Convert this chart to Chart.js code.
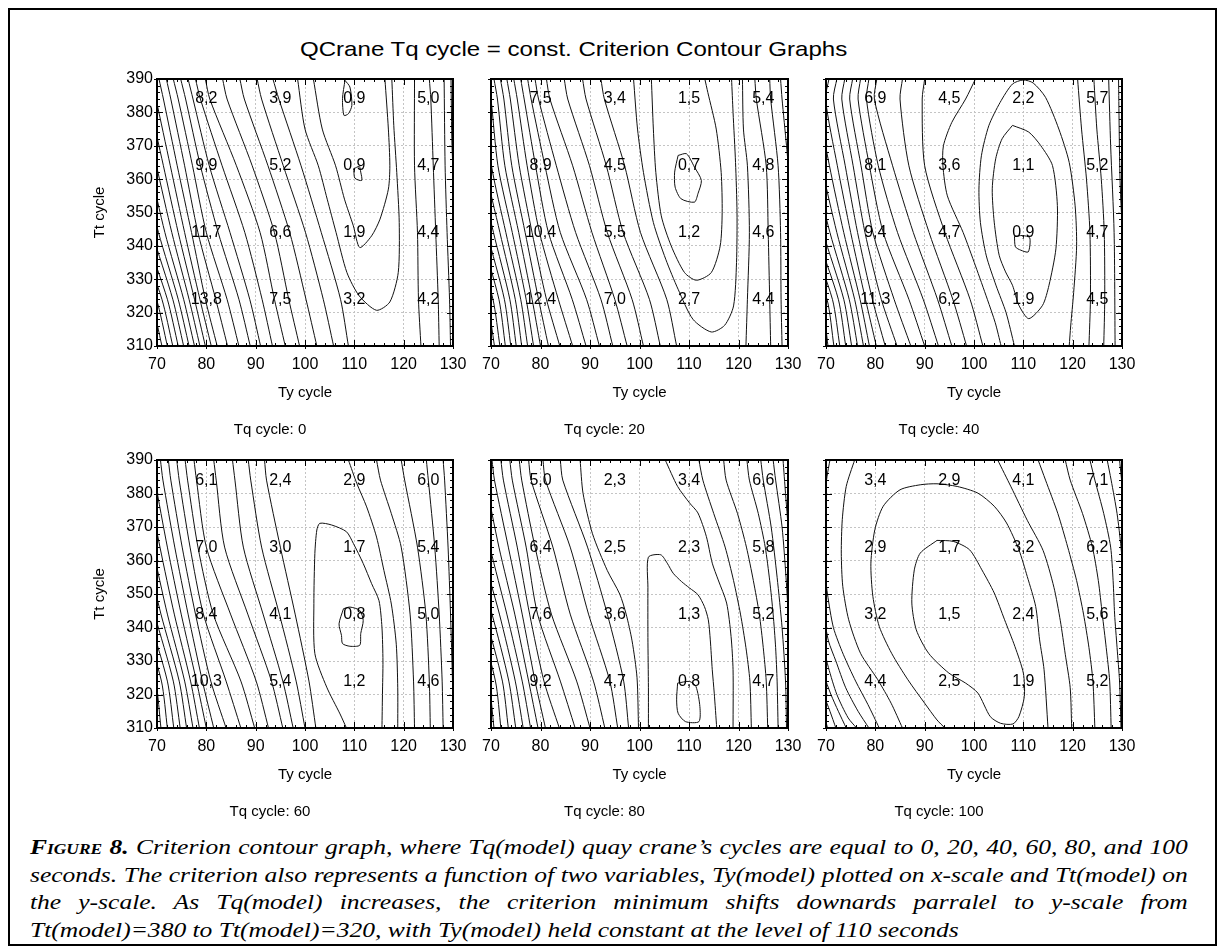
<!DOCTYPE html>
<html>
<head>
<meta charset="utf-8">
<title>QCrane Tq cycle contour graphs</title>
<script src="https://cdn.jsdelivr.net/npm/chart.js@4.4.1/dist/chart.umd.min.js"></script>
<style>
  body { margin: 0; background: #fff; }
  #page { position: relative; width: 1223px; height: 948px; overflow: hidden; font-family: Arial, "Liberation Sans", sans-serif; }
  #frame { position: absolute; left: 8px; top: 8px; width: 1205px; height: 934px; border: 2px solid #000; }
  #title { position: absolute; left: 300px; top: 37px; font-size: 21px; line-height: 24px; white-space: nowrap; color: #000; transform: scaleX(1.146); transform-origin: 0 0; }
  canvas { position: absolute; }
  #caption { position: absolute; left: 30px; top: 833px; width: 998px; font-family: "Liberation Serif", "Times New Roman", serif; font-style: italic; font-size: 22px; line-height: 27.7px; color: #000; transform: scaleX(1.16); transform-origin: 0 0; }
  #caption div { white-space: nowrap; }
  #caption .jl { text-align: justify; text-align-last: justify; }
  .sc { font-variant: small-caps; }
</style>
</head>
<body>
<div id="page">
  <div id="frame"></div>
  <div id="title">QCrane Tq cycle = const. Criterion Contour Graphs</div>
  <canvas id="c0"></canvas>
  <canvas id="c1"></canvas>
  <canvas id="c2"></canvas>
  <canvas id="c3"></canvas>
  <canvas id="c4"></canvas>
  <canvas id="c5"></canvas>
  <div id="caption">
    <div class="jl"><b>F<span class="sc">igure</span> 8.</b> Criterion contour graph, where Tq(model) quay crane’s cycles are equal to 0, 20, 40, 60, 80, and 100</div>
    <div class="jl">seconds. The criterion also represents a function of two variables, Ty(model) plotted on x-scale and Tt(model) on</div>
    <div class="jl">the y-scale. As Tq(model) increases, the criterion minimum shifts downards parralel to y-scale from</div>
    <div>Tt(model)=380 to Tt(model)=320, with Ty(model) held constant at the level of 110 seconds</div>
  </div>
</div>

<script>
// panels, one per Tq cycle
var tqCycles = [0, 20, 40, 60, 80, 100];

// where the value labels sit (Ty, Tt)
var tyLabelCols = [80, 95, 110, 125];
var ttLabelRows = [384, 364, 344, 324];

// criterion values written on each panel, row by row from the top
var tq0Values = [8.2, 3.9, 0.9, 5.0, 9.9, 5.2, 0.9, 4.7, 11.7, 6.6, 1.9, 4.4, 13.8, 7.5, 3.2, 4.2];
var tq20Values = [7.5, 3.4, 1.5, 5.4, 8.9, 4.5, 0.7, 4.8, 10.4, 5.5, 1.2, 4.6, 12.4, 7.0, 2.7, 4.4];
var tq40Values = [6.9, 4.5, 2.2, 5.7, 8.1, 3.6, 1.1, 5.2, 9.4, 4.7, 0.9, 4.7, 11.3, 6.2, 1.9, 4.5];
var tq60Values = [6.1, 2.4, 2.9, 6.0, 7.0, 3.0, 1.7, 5.4, 8.4, 4.1, 0.8, 5.0, 10.3, 5.4, 1.2, 4.6];
var tq80Values = [5.0, 2.3, 3.4, 6.6, 6.4, 2.5, 2.3, 5.8, 7.6, 3.6, 1.3, 5.2, 9.2, 4.7, 0.8, 4.7];
var tq100Values = [3.4, 2.9, 4.1, 7.1, 2.9, 1.7, 3.2, 6.2, 3.2, 1.5, 2.4, 5.6, 4.4, 2.5, 1.9, 5.2];

// the dense slanted contours on the left: Ty where each one crosses these Tt rows
var ttRows = [390, 384, 364, 344, 324, 310];

var tq0Bands = [
  [93.5, 94.7, 99.2, 103.3, 107.2, 108.8],
  [90.3, 91.2, 95.6, 100.1, 103.7, 105.8],
  [86.8, 87.7, 92.5, 96.9, 100.2, 102.4],
  [83.3, 84.2, 89.3, 93.8, 96.7, 98.9],
  [79.8, 80.7, 86.1, 90.9, 93.8, 96.0],
  [77.8, 78.8, 83.2, 87.8, 91.3, 93.4],
  [76.3, 77.3, 80.6, 84.8, 88.8, 91.0],
  [74.8, 75.8, 78.8, 82.4, 86.6, 88.9],
  [73.3, 74.3, 77.2, 80.0, 84.2, 86.6],
  [71.9, 72.8, 75.6, 78.3, 81.9, 84.3],
  [70.4, 71.3, 74.1, 77.0, 79.8, 82.2],
  [68.9, 69.8, 72.7, 75.6, 78.7, 81.0],
  [67.4, 68.3, 71.3, 74.3, 77.6, 79.8],
  [66.0, 67.0, 69.9, 73.0, 76.5, 78.7],
  [64.5, 65.5, 68.5, 71.6, 75.4, 77.6],
  [63.0, 64.0, 67.0, 70.3, 74.3, 76.5],
  [61.5, 62.5, 65.6, 69.0, 73.2, 75.4],
  [60.0, 61.0, 64.2, 67.6, 72.1, 74.3],
  [58.5, 59.5, 62.8, 66.3, 71.0, 73.2],
  [57.0, 58.0, 61.4, 65.0, 69.9, 72.1],
  [55.5, 56.5, 60.0, 63.7, 68.8, 71.0]
];
var tq20Bands = [
  [92.2, 92.9, 97.0, 100.2, 105.5, 107.5],
  [88.5, 89.2, 93.3, 96.7, 102.0, 104.2],
  [84.8, 85.5, 89.9, 93.5, 98.5, 100.8],
  [81.2, 81.9, 86.5, 90.4, 95.0, 97.5],
  [78.9, 79.6, 83.2, 87.1, 92.2, 94.6],
  [77.4, 78.1, 80.9, 84.0, 89.3, 91.9],
  [76.0, 76.7, 79.0, 81.6, 86.4, 89.2],
  [74.6, 75.3, 77.3, 79.8, 83.6, 86.5],
  [73.2, 73.9, 75.7, 78.3, 81.2, 83.9],
  [71.9, 72.6, 74.2, 76.9, 79.6, 81.6],
  [70.6, 71.3, 72.8, 75.6, 78.3, 80.0],
  [69.3, 70.0, 71.4, 74.3, 77.1, 78.6],
  [68.0, 68.7, 70.1, 73.0, 76.0, 77.4],
  [66.7, 67.4, 68.8, 71.8, 74.9, 76.2],
  [65.4, 66.1, 67.5, 70.5, 73.8, 75.1],
  [64.0, 64.8, 66.2, 69.2, 72.7, 74.0],
  [62.7, 63.5, 64.9, 67.9, 71.6, 72.9],
  [61.4, 62.2, 63.6, 66.6, 70.4, 71.8],
  [60.0, 61.0, 62.3, 65.3, 69.2, 70.7]
];
var tq40Bands = [
  [90.0, 89.5, 90.0, 94.1, 99.2, 101.8],
  [85.5, 85.0, 86.8, 90.9, 95.7, 98.5],
  [80.3, 79.8, 83.5, 87.7, 92.6, 95.5],
  [78.7, 78.2, 80.6, 84.5, 89.7, 92.8],
  [77.0, 76.5, 78.8, 81.6, 86.8, 90.0],
  [75.4, 74.8, 77.1, 79.5, 83.8, 87.2],
  [73.8, 73.2, 75.5, 77.9, 81.2, 84.4],
  [72.2, 71.5, 73.9, 76.4, 79.4, 82.0],
  [70.6, 69.9, 72.3, 75.0, 78.0, 80.2],
  [69.0, 68.3, 70.7, 73.6, 76.9, 78.8],
  [67.4, 66.7, 69.1, 72.2, 75.8, 77.6],
  [65.8, 65.1, 67.5, 70.8, 74.7, 76.4],
  [64.2, 63.5, 65.9, 69.4, 73.6, 75.2],
  [62.6, 61.9, 64.3, 68.0, 72.5, 74.0],
  [61.0, 60.3, 62.7, 66.6, 71.3, 72.8],
  [59.4, 58.7, 61.1, 65.2, 70.2, 71.6],
  [57.8, 57.1, 59.5, 63.8, 69.1, 70.4]
];
var tq60Bands = [
  [91.8, 92.2, 95.0, 98.0, 100.8, 102.2],
  [88.5, 89.0, 91.2, 94.8, 98.2, 100.0],
  [85.3, 85.8, 87.5, 91.5, 95.5, 97.6],
  [81.5, 82.0, 83.7, 88.4, 93.2, 95.5],
  [77.5, 78.0, 80.0, 84.9, 90.1, 92.6],
  [75.7, 76.2, 78.3, 81.4, 87.0, 89.8],
  [74.0, 74.5, 76.7, 79.4, 84.0, 87.0],
  [72.3, 72.8, 75.1, 77.8, 80.9, 84.0],
  [70.7, 71.2, 73.6, 76.3, 79.2, 81.5],
  [69.1, 69.6, 72.1, 74.9, 78.0, 80.0],
  [67.5, 68.0, 70.6, 73.5, 76.8, 78.6],
  [65.9, 66.4, 69.1, 72.1, 75.6, 77.3],
  [64.3, 64.8, 67.6, 70.8, 74.5, 76.0],
  [62.7, 63.2, 66.1, 69.5, 73.3, 74.7],
  [61.1, 61.6, 64.6, 68.2, 72.1, 73.4],
  [59.5, 60.0, 63.1, 66.9, 70.9, 72.1],
  [57.9, 58.4, 61.6, 65.6, 69.7, 70.8]
];
var tq80Bands = [
  [84.0, 84.5, 89.5, 93.5, 96.8, 97.8],
  [80.5, 81.0, 86.0, 89.7, 94.0, 95.6],
  [77.6, 78.1, 82.5, 86.0, 90.7, 93.0],
  [75.7, 76.2, 78.9, 82.2, 87.3, 90.0],
  [73.8, 74.3, 77.1, 79.4, 84.0, 87.0],
  [72.0, 72.5, 75.3, 77.8, 80.7, 83.8],
  [70.2, 70.7, 73.5, 76.3, 78.9, 81.0],
  [68.4, 68.9, 71.6, 74.8, 77.6, 79.5],
  [66.6, 67.1, 69.8, 73.2, 76.3, 78.0],
  [64.8, 65.3, 68.0, 71.7, 74.9, 76.5],
  [63.0, 63.5, 66.2, 70.2, 73.6, 75.0],
  [61.0, 61.5, 64.4, 68.7, 72.3, 73.5],
  [59.0, 59.5, 62.6, 67.2, 70.9, 72.0],
  [57.0, 57.5, 60.8, 65.7, 69.5, 70.6]
];
var tq100Bands = [];

// the other contours, as (Ty, Tt) points
var tq0Curves = [
  [[108.1, 389.6], [109.1, 387.6], [109.5, 382.1], [108.8, 379.6], [107.9, 379.1], [107.6, 384.1], [108.1, 389.6]],
  [[109.9, 363.1], [111.0, 363.8], [111.3, 362.1], [111.5, 359.6], [110.1, 360.3], [109.9, 363.1]],
  [[101.7, 390], [103.5, 375], [106.2, 364], [108, 354], [109.8, 346], [111.1, 339.5], [113.5, 343], [115.2, 348], [116.9, 357], [117.2, 364], [116.9, 375], [116.2, 390]],
  [[98.5, 390], [100, 375], [102.7, 364], [104.5, 354], [106.3, 344], [108.5, 332], [111, 325], [114.5, 320.7], [117.2, 323.2], [118.9, 332], [119.1, 347], [118.6, 362], [118, 376], [117.6, 390]],
  [[122.2, 390], [122.2, 364], [122.8, 344], [123, 324], [123.5, 310]],
  [[125.2, 390], [125.5, 384], [126, 364], [126.5, 344], [127, 324], [127.2, 310]],
  [[128.2, 390], [128.4, 364], [128.8, 344], [129.3, 324], [129.5, 310]],
  [[129.6, 390], [129.8, 370], [130.4, 350]]
];
var tq20Curves = [
  [[107.8, 367.1], [109.5, 367.6], [111.1, 363.6], [112.5, 359.6], [111.8, 355.6], [111.1, 353.1], [108.4, 354.1], [107.2, 357.6], [107.1, 362.1], [107.8, 367.1]],
  [[102.4, 390], [102.8, 375], [103.3, 362], [104.4, 349], [106.4, 340], [109.1, 332], [111.5, 329.7], [114.5, 332], [116.3, 340], [116.7, 350], [116.5, 362], [115.5, 375], [113.8, 386], [113.2, 390]],
  [[98.8, 390], [99.6, 375], [100.8, 362], [102.8, 347], [105.3, 336], [107.8, 327], [110.8, 318], [114.5, 314.2], [117.2, 316.2], [119, 322], [119.6, 335], [119.7, 350], [119.4, 365], [118.9, 380], [118.6, 390]],
  [[120.8, 390], [121, 375], [121.8, 364], [122.2, 344], [121.8, 324], [121.5, 310]],
  [[123.3, 390], [123.6, 384], [125.6, 364], [126, 344], [126.3, 324], [126.5, 310]],
  [[126.3, 390], [126.5, 384], [128, 364], [128.5, 344], [128.6, 324], [128.8, 310]],
  [[128.5, 390], [128.8, 384], [129.7, 370], [130.3, 360]]
];
var tq40Curves = [
  [[108.2, 342.8], [109.8, 343.1], [111.3, 342.4], [111.0, 338.2], [109.5, 338.7], [108.4, 339.7], [108.2, 342.8]],
  [[107.8, 376.1], [111.1, 374.1], [113.5, 370.1], [115.9, 364.1], [116.9, 352.1], [116.6, 339.1], [115.2, 328.2], [113.9, 322.2], [111.1, 318.2], [109.1, 322.2], [107.8, 328.2], [106.4, 332.2], [105.1, 337.2], [104.1, 347.1], [103.7, 357.1], [104.4, 366.1], [105.7, 372.1], [107.8, 376.1]],
  [[108.2, 310], [106.5, 320], [104.5, 328], [102.5, 337], [101.3, 347], [101, 357], [101.5, 367], [103, 376], [105.3, 383], [107.8, 388.5], [110, 389.7], [112, 388.8], [114.5, 384.5], [117.2, 375], [119.3, 365], [120.5, 352], [120.8, 340], [120.2, 326], [119.6, 316], [119.3, 310]],
  [[100.3, 390], [98.3, 384], [95.5, 377], [93.8, 370], [93.7, 364], [94.6, 355], [97.8, 344], [100.3, 334], [102.7, 324], [104.3, 317], [105.5, 310]],
  [[121, 390], [121.8, 375], [122.8, 360], [123.5, 344], [123.6, 324], [123.3, 310]],
  [[124.3, 390], [124.9, 375], [125.8, 360], [126.4, 344], [126.5, 324], [126.3, 310]],
  [[127.3, 390], [127.7, 370], [128.4, 344], [128.6, 310]],
  [[129.3, 390], [129.6, 360], [130.2, 340]]
];
var tq60Curves = [
  [[107.8, 345.6], [109.1, 346.1], [111.1, 345.1], [111.8, 342.1], [111.3, 338.2], [111.1, 334.7], [109.1, 334.4], [107.6, 335.2], [107.4, 337.6], [106.9, 341.1], [107.8, 345.6]],
  [[108.4, 310], [107.1, 314.2], [104.4, 322.2], [102, 332.2], [101.8, 347.1], [102, 362.1], [102.4, 369.1], [103, 371.1], [105.4, 370.6], [108.4, 368.6], [109.8, 365.1], [111.8, 359.1], [113.5, 353.1], [115, 348], [115.6, 340], [115.8, 330], [115.7, 320], [115.6, 310]],
  [[108.8, 390], [110.5, 383], [112.5, 376], [114.5, 367], [116, 357], [117.5, 347], [118.5, 335], [118.8, 322], [118.8, 310]],
  [[114.5, 390], [115.3, 384], [117.5, 374], [119.5, 364], [121.3, 344], [122, 324], [122.2, 310]],
  [[119.5, 390], [120.2, 384], [122.8, 364], [124.5, 344], [125.2, 324], [125.4, 310]],
  [[124.6, 390], [125, 384], [126.3, 364], [127.2, 344], [127.8, 324], [128, 310]],
  [[128, 390], [128.3, 384], [129, 364], [129.5, 344], [129.9, 324], [130.1, 310]]
];
var tq80Curves = [
  [[107.7, 323.4], [110.1, 323.9], [111.4, 322.4], [112.2, 316.4], [112, 311.9], [109.3, 311.9], [107.8, 314.4], [107.5, 318.4], [107.7, 323.4]],
  [[101.8, 310], [101.8, 322], [101.7, 337], [101.7, 352], [101.8, 361], [104.3, 361.7], [105.6, 359.2], [106.8, 356.2], [108.5, 353.7], [110.1, 351.8], [111.8, 349.8], [113.1, 346.3], [113.9, 342.3], [114.3, 336.3], [114.7, 327.4], [115.1, 320.4], [115.6, 310]],
  [[88.0, 390], [88.6, 380], [90.5, 368], [93.5, 357], [96, 350], [97.3, 344], [98.5, 336], [99.5, 325], [99.8, 310]],
  [[105.2, 390], [107.7, 382.1], [110.1, 377.2], [111.8, 374.2], [113.5, 367.2], [114.7, 359.2], [115.9, 354.2], [117.6, 347.3], [118.5, 337.3], [118.9, 327.4], [118.9, 310]],
  [[112, 390], [112.8, 384], [115, 374], [117.3, 364], [119, 354], [120.4, 344], [121.5, 334], [122.3, 324], [122.6, 310]],
  [[117, 390], [117.5, 384], [119.8, 374], [121.6, 364], [123, 354], [124.2, 344], [125, 334], [125.6, 324], [125.9, 310]],
  [[121.7, 390], [122.2, 384], [124, 374], [125.4, 364], [126.3, 354], [127, 344], [127.5, 334], [127.8, 324], [128, 310]],
  [[124.5, 390], [125, 384], [126.6, 370], [127.8, 355], [128.8, 340], [129.5, 324], [129.7, 310]],
  [[127, 390], [127.5, 384], [128.8, 370], [129.6, 355], [130.2, 340]],
  [[129, 390], [129.5, 380], [130.3, 365]]
];
var tq100Curves = [
  [[92.5, 366], [95.8, 365.7], [99.1, 363.2], [101.6, 357.2], [104.1, 350.3], [106.2, 342.3], [108.3, 334.3], [110, 326.4], [110.2, 319.4], [109.1, 313.4], [107.9, 311.2], [105.4, 311.4], [103.3, 313.4], [100.8, 320.4], [98.3, 323.4], [94.9, 326.4], [90.8, 332.3], [88.3, 339.3], [87.4, 347.3], [87.9, 357.2], [89.1, 362.2], [92.5, 366]],
  [[94.1, 310], [92.5, 312.4], [90, 317.4], [86.6, 324.4], [83.3, 332.3], [80.8, 340.3], [79.5, 349.3], [79.1, 359.2], [79.9, 369.2], [81.6, 376.2], [85, 381.1], [89.1, 382.6], [92.5, 382.9], [96.6, 382.1], [100.8, 380.1], [104.1, 376.2], [106.6, 371.2], [109.1, 363.2], [110.8, 355.2], [112.5, 346.3], [113.3, 336.3], [114.2, 327.4], [115, 310]],
  [[75.8, 390], [74.1, 382.1], [73.3, 372.2], [73.1, 362.2], [73.4, 352.3], [74.6, 342.3], [77, 332.3], [80.5, 324.4], [83.2, 317.4], [85.5, 310]],
  [[104.8, 390], [107.5, 382], [110.8, 372], [114, 363], [116.2, 352], [117.5, 342], [118.5, 332], [119.5, 322], [119.8, 310]],
  [[113, 390], [114.5, 384], [117, 374], [119, 364], [120.8, 354], [122.2, 344], [123.3, 334], [124.1, 324], [124.5, 310]],
  [[118.5, 390], [119.5, 384], [122, 374], [124, 364], [125.2, 354], [126, 344], [126.8, 334], [127.5, 324], [127.8, 310]],
  [[123.5, 390], [124.5, 384], [126.3, 374], [127.7, 364], [128.2, 354], [128.5, 344], [129, 334], [129.5, 324], [129.8, 310]],
  [[127, 390], [127.8, 384], [129, 374], [129.8, 364], [130.3, 354]],
  [[129.5, 390], [130.2, 380]],
  [[70.8, 390], [70.2, 385], [69.6, 378]],
  [[69.5, 360], [70.3, 350], [71.5, 340], [73.5, 332], [76, 324], [78.5, 317], [80.8, 310]],
  [[69.5, 344], [70.5, 336], [72, 330], [74, 322], [76.5, 315], [78.7, 310]],
  [[69.5, 334], [70.5, 328], [72.2, 320], [74.5, 313], [76.2, 310]],
  [[69.5, 326], [71, 320], [72.5, 315], [74.1, 310]],
  [[69.5, 320], [70.8, 315], [72, 310]],
  [[69.5, 315], [70.3, 310]]
];

var panelValues = [tq0Values, tq20Values, tq40Values, tq60Values, tq80Values, tq100Values];
var panelBands = [tq0Bands, tq20Bands, tq40Bands, tq60Bands, tq80Bands, tq100Bands];
var panelCurves = [tq0Curves, tq20Curves, tq40Curves, tq60Curves, tq80Curves, tq100Curves];

// page layout of the plot areas
var plotLeft = [157, 491, 826];
var plotWidth = [296, 297, 296];
var plotTop = [79, 460];
var plotHeight = [267, 268];
var yAxisW = 70, padTop = 12, padRight = 25, xAxisH = 56, subTitleH = 37;

Chart.defaults.font.family = 'Arial, "Liberation Sans", sans-serif';
Chart.defaults.color = '#000';

// frame, inner tick marks and the value labels
var framePlugin = {
  id: 'framePlugin',
  afterDatasetsDraw: function(chart, args, opts) {
    var ctx = chart.ctx;
    var a = chart.chartArea;
    var x = chart.scales.x, y = chart.scales.y;
    ctx.save();
    ctx.font = '16px Arial, "Liberation Sans", sans-serif';
    ctx.fillStyle = '#000';
    ctx.textAlign = 'center';
    ctx.textBaseline = 'middle';
    opts.values.forEach(function(v, k) {
      var px = x.getPixelForValue(tyLabelCols[k % 4]);
      var py = y.getPixelForValue(ttLabelRows[Math.floor(k / 4)]);
      ctx.fillText(v.toFixed(1).replace('.', ','), px, py);
    });

    ctx.strokeStyle = '#000';
    ctx.lineWidth = 1;
    ctx.beginPath();
    for (var v = 70; v <= 130; v += 2) {
      var px = Math.round(x.getPixelForValue(v)) + 0.5;
      var len = v % 10 === 0 ? 6 : 3;
      ctx.moveTo(px, a.bottom); ctx.lineTo(px, a.bottom - len);
      ctx.moveTo(px, a.top); ctx.lineTo(px, a.top + len);
      if (v % 10 === 0) { ctx.moveTo(px, a.bottom); ctx.lineTo(px, a.bottom + 3); }
    }
    for (var t = 310; t <= 390; t += 2) {
      var py = Math.round(y.getPixelForValue(t)) + 0.5;
      var len2 = t % 10 === 0 ? 6 : 3;
      ctx.moveTo(a.left, py); ctx.lineTo(a.left + len2, py);
      ctx.moveTo(a.right, py); ctx.lineTo(a.right - len2, py);
      if (t % 10 === 0) { ctx.moveTo(a.left, py); ctx.lineTo(a.left - 3, py); }
    }
    ctx.stroke();

    ctx.lineWidth = 2;
    ctx.strokeRect(a.left, a.top, a.right - a.left, a.bottom - a.top);
    ctx.restore();
  }
};

function makePanel(i) {
  var col = i % 3, row = Math.floor(i / 3);
  var isLeft = col === 0;
  var canvas = document.getElementById('c' + i);
  var w = yAxisW + plotWidth[col] + padRight;
  var h = padTop + plotHeight[row] + xAxisH + subTitleH;
  canvas.width = w;
  canvas.height = h;
  canvas.style.left = (plotLeft[col] - yAxisW) + 'px';
  canvas.style.top = (plotTop[row] - padTop) + 'px';
  canvas.style.width = w + 'px';
  canvas.style.height = h + 'px';

  var lines = panelBands[i].map(function(xs) {
    return xs.map(function(v, k) { return {x: v, y: ttRows[k]}; });
  }).concat(panelCurves[i].map(function(c) {
    return c.map(function(p) { return {x: p[0], y: p[1]}; });
  }));

  var datasets = lines.map(function(pts) {
    return {
      data: pts,
      showLine: true,
      borderColor: '#111',
      borderWidth: 1,
      pointRadius: 0,
      tension: 0.25,
      fill: false
    };
  });

  new Chart(canvas, {
    type: 'scatter',
    data: { datasets: datasets },
    options: {
      responsive: false,
      animation: false,
      events: [],
      layout: { padding: { left: 0, right: padRight, top: padTop, bottom: 0 } },
      elements: { line: { capBezierPoints: false } },
      scales: {
        x: {
          type: 'linear', min: 70, max: 130,
          ticks: { stepSize: 10, padding: 9, font: { size: 16 }, color: '#000' },
          grid: { color: '#c4c4c4', lineWidth: 1, drawTicks: false },
          border: { display: false, dash: [2, 2] },
          title: { display: true, text: 'Ty cycle', font: { size: 15 }, color: '#000', padding: { top: 0, bottom: 0 } },
          afterFit: function(s) { s.height = xAxisH; s.paddingLeft = 0; s.paddingRight = 0; }
        },
        y: {
          type: 'linear', min: 310, max: 390,
          ticks: { stepSize: 10, padding: 4, display: isLeft, font: { size: 16 }, color: '#000' },
          grid: { color: '#c4c4c4', lineWidth: 1, drawTicks: false },
          border: { display: false, dash: [2, 2] },
          title: { display: isLeft, text: 'Tt cycle', font: { size: 15 }, color: '#000', padding: { top: 4, bottom: 0 } },
          afterFit: function(s) { s.width = yAxisW; s.paddingTop = 0; s.paddingBottom = 0; }
        }
      },
      plugins: {
        legend: { display: false },
        tooltip: { enabled: false },
        title: {
          display: true, position: 'bottom', text: 'Tq cycle: ' + tqCycles[i],
          font: { size: 15, weight: 'normal' }, color: '#000',
          padding: { top: 19, bottom: 0 }
        },
        framePlugin: { values: panelValues[i] }
      }
    },
    plugins: [framePlugin]
  });
}

for (var i = 0; i < 6; i++) makePanel(i);
</script>
</body>
</html>
